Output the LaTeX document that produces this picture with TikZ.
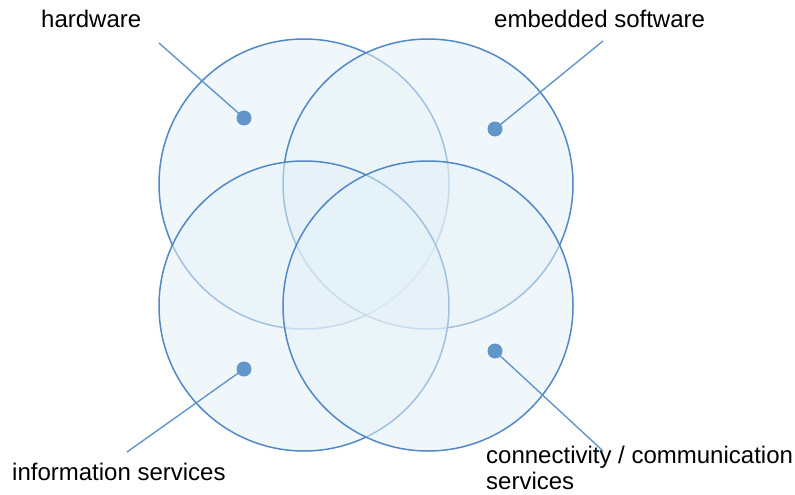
\documentclass[tikz,border=0pt]{standalone}
\usepackage{fontspec}
\setmainfont{Liberation Sans}
\definecolor{ringline}{RGB}{82,136,198}
\definecolor{ringfill}{RGB}{228,241,247}
\definecolor{pin}{RGB}{98,150,203}
\begin{document}
\begin{tikzpicture}[x=1pt,y=-1pt,
  ring/.style={draw=ringline,line width=1.5pt,fill=ringfill,fill opacity=0.55},
  pindot/.style={circle,fill=pin,inner sep=0pt,minimum size=15pt},
  leader/.style={draw=pin,line width=1.4pt},
  label/.style={anchor=base west,inner sep=0pt,font=\fontsize{24}{26}\selectfont,align=left}]
  \useasboundingbox (0,0) rectangle (795,495);
  % four overlapping areas
  \path[ring] (304,184) circle[radius=145];
  \path[ring] (428,184) circle[radius=145];
  \path[ring] (304,306) circle[radius=145];
  \path[ring] (428,306) circle[radius=145];
  % labels
  \node[label] (hw) at (41,28) {hardware};
  \node[label] (es) at (494,28) {embedded software};
  \node[label] (is) at (12,480) {information services};
  \node[label] (cs) at (486,463) {connectivity / communication};
  \node[label] (cs2) at (486,489) {services};
  % leader ends and pin positions
  \coordinate (hwend) at (159,43);
  \coordinate (esend) at (603,41);
  \coordinate (isend) at (127,452);
  \coordinate (csend) at (603,451);
  \coordinate (hwpos) at (244,118);
  \coordinate (espos) at (495,129);
  \coordinate (ispos) at (244,369);
  \coordinate (cspos) at (495,351);
  % leaders
  \draw[leader] (hwend) -- (hwpos);
  \draw[leader] (esend) -- (espos);
  \draw[leader] (isend) -- (ispos);
  \draw[leader] (csend) -- (cspos);
  % pins
  \node[pindot] (hwdot) at (hwpos) {};
  \node[pindot] (esdot) at (espos) {};
  \node[pindot] (isdot) at (ispos) {};
  \node[pindot] (csdot) at (cspos) {};
\end{tikzpicture}
\end{document}
